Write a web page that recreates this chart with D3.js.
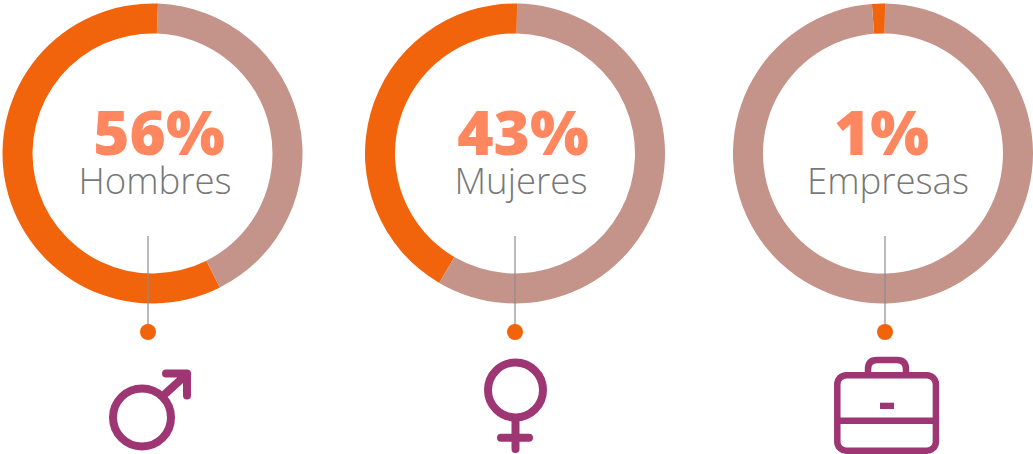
<!DOCTYPE html>
<html><head><meta charset="utf-8">
<script src="https://cdnjs.cloudflare.com/ajax/libs/d3/7.8.5/d3.min.js"></script>
<style>html,body{margin:0;padding:0;background:#fff}svg{display:block}</style></head>
<body><div id="c"></div>
<script>
// Data
const categories = ["Hombres", "Mujeres", "Empresas"];
const percentLabels = ["56%", "43%", "1%"];
// Arc shares as drawn in the picture (they differ slightly from the printed labels)
const orangeShare = [58, 41.8, 1.4];
const restShare = [42, 58.2, 98.6];
const startDegrees = [2.1, 0.8, 0.8]; // where the orange arc ends, clockwise from top

// Layout
const W = 1033, H = 454;
const centers = [152.5, 515, 883], cy = 153.5, R = 150, r = 120;
const pctX = [159, 523, 881.5], nameX = [155, 521, 888];
const stemX = [148, 515, 885];
const ORANGE = "#f1640c", TAUPE = "#c49389", SALMON = "#ff875f", GREY = "#787878", PURPLE = "#9f3674";

const svg = d3.select("#c").append("svg").attr("width", W).attr("height", H);
const arc = d3.arc().innerRadius(r).outerRadius(R);
const rad = d => d * Math.PI / 180;

categories.forEach((name, i) => {
  const g = svg.append("g").attr("transform", `translate(${centers[i]},${cy})`);
  const start = rad(startDegrees[i]);
  const pie = d3.pie().sort(null).value(d => d.v).startAngle(start).endAngle(start - 2 * Math.PI);
  g.selectAll("path")
    .data(pie([{v: orangeShare[i], c: ORANGE}, {v: restShare[i], c: TAUPE}]))
    .join("path").attr("d", arc).attr("fill", d => d.data.c);

  svg.append("text").attr("x", pctX[i]).attr("y", 155).attr("text-anchor", "middle")
    .attr("font-family", "'Open Sans'").attr("font-weight", 800).attr("font-size", 62)
    .attr("fill", SALMON).text(percentLabels[i]);
  svg.append("text").attr("x", nameX[i]).attr("y", 194).attr("text-anchor", "middle")
    .attr("font-family", "'Open Sans'").attr("font-weight", 300).attr("font-size", 36.6)
    .attr("fill", GREY).text(name);

  svg.append("line").attr("x1", stemX[i]).attr("x2", stemX[i]).attr("y1", 236).attr("y2", 332)
    .attr("stroke", "#8c8c8c").attr("stroke-width", 1.2);
  svg.append("circle").attr("cx", stemX[i]).attr("cy", 332).attr("r", 8).attr("fill", ORANGE);
});

const icon = svg.append("g").attr("fill", "none").attr("stroke", PURPLE)
  .attr("stroke-linecap", "round").attr("stroke-linejoin", "round");
// male
icon.append("circle").attr("cx", 142).attr("cy", 417.5).attr("r", 29).attr("stroke-width", 8);
icon.append("path").attr("stroke-width", 8).attr("d", "M165 394L187 374M166 373.5H187V395.5");
// female
icon.append("circle").attr("cx", 515.5).attr("cy", 390).attr("r", 27.5).attr("stroke-width", 8);
icon.append("path").attr("stroke-width", 8).attr("d", "M515.5 418V449M501 437.7H529");
// briefcase
icon.append("rect").attr("x", 837.3).attr("y", 375.2).attr("width", 98.6).attr("height", 75.5).attr("rx", 9).attr("stroke-width", 6.5);
icon.append("path").attr("stroke-width", 6.5).attr("stroke-linecap", "butt").attr("d", "M837 420.7H936M868 372V369.5Q868 360 877 360H897Q906 360 906 369.5V372");
icon.append("rect").attr("x", 880).attr("y", 402.7).attr("width", 14).attr("height", 6.3).attr("fill", PURPLE).attr("stroke", "none");
</script></body></html>
